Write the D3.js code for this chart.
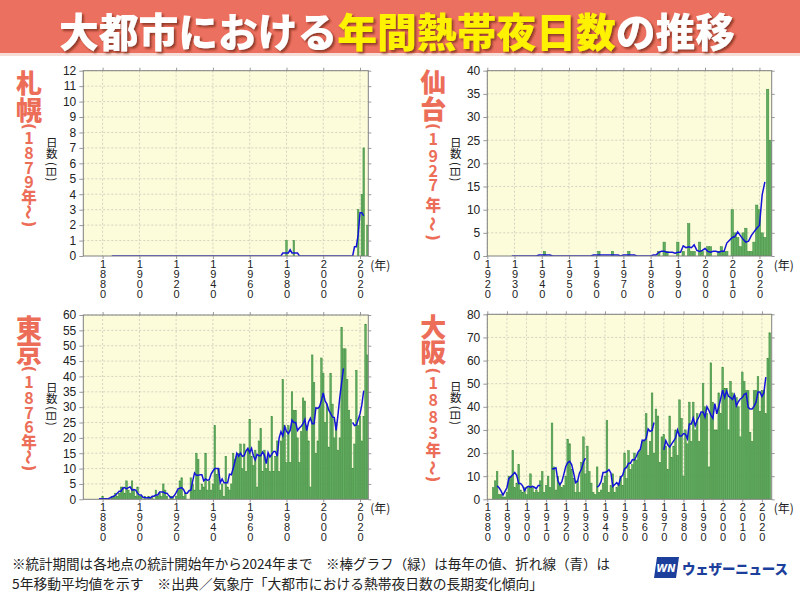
<!DOCTYPE html>
<html>
<head>
<meta charset="utf-8">
<script src="https://cdn.jsdelivr.net/npm/d3@7"></script>
<style>
  body { margin: 0; background: #fff; }
  svg { display: block; font-family: "Noto Sans CJK JP", "Noto Sans", sans-serif; }
</style>
</head>
<body>
<div id="chart"></div>
<script>
// ---- data ----
var cities = ["札幌", "仙台", "東京", "大阪"];
var startYears = [1879, 1927, 1876, 1883];

// 札幌 1879-2024
var sapporoDays = [0,
  0,0,0,0,0,0,0,0,0,0, 0,0,0,0,0,0,0,0,0,0, 0,0,0,0,0,0,0,0,0,0, 0,0,0,0,0,0,0,0,0,0,
  0,0,0,0,0,0,0,0,0,0, 0,0,0,0,0,0,0,0,0,0, 0,0,0,0,0,0,0,0,0,0, 0,0,0,0,0,0,0,0,0,0,
  0,0,0,0,0,0,0,0,0,0, 0,0,0,0,0,0,0,0,0,0,
  1,0,0,0,1,0,0,0,0,0,
  0,0,0,0,0,0,0,0,0,0, 0,0,0,0,0,0,0,0,0,0,
  0,0,0,0,0,0,0,0,0,3,
  0,4,7,0,2];

// 仙台 1927-2024
var sendaiDays = [0,0,0,
  0,0,0,0,0,0,0,0,0,0,
  0,1,0,0,0,0,0,0,0,0,
  0,0,0,0,0,0,0,0,0,0,
  0,1,0,0,0,0,1,0,0,0,
  0,0,1,0,0,0,0,0,0,0,
  0,0,0,1,0,3,1,0,0,0,
  3,0,1,0,7,1,1,0,3,1,
  0,2,2,0,0,1,2,1,1,0,
  10,5,4,2,5,6,1,1,3,11,
  10,5,4,36,25];

// 東京 1876-2024
var tokyoDays = [0,0,0,0,
  1,0,0,0,0,1,1,2,1,2,
  4,4,2,6,3,2,6,3,1,4,
  1,1,0,1,0,1,0,1,0,3,
  1,2,1,5,3,1,0,1,1,0,
  1,3,6,7,1,2,0,0,7,5,
  3,15,13,3,5,4,15,3,6,3,
  5,24,8,10,3,5,1,14,4,3,
  5,15,13,14,15,18,10,18,9,16,
  26,14,11,16,4,19,23,9,16,10,
  14,9,27,9,14,19,9,19,39,24,
  12,24,12,35,29,29,20,12,22,33,
  32,24,19,4,47,38,15,19,30,46,
  41,25,31,17,41,31,20,25,16,20,
  56,49,49,39,29,26,10,18,42,24,
  27,19,27,57,47];

// 大阪 1883-2024
var osakaDays = [5,8,12,2,2,1,1,
  3,10,10,21,5,7,15,4,3,5,
  2,5,11,5,3,4,3,8,12,3,
  6,10,5,33,14,4,10,7,5,6,
  10,26,24,13,9,3,8,3,16,27,
  11,23,12,7,3,2,14,3,4,7,
  10,34,3,6,11,3,5,7,10,6,
  20,9,21,13,15,20,17,20,21,25,
  25,37,19,25,46,20,39,36,16,27,
  28,23,13,36,18,23,30,19,43,35,
  10,30,24,42,25,42,30,37,25,37,
  50,40,37,14,59,42,30,30,46,37,
  57,48,48,30,51,46,45,44,40,27,
  55,51,47,47,29,25,47,47,53,38,
  47,47,37,61,72];

// continuous observation periods (the 5-year line is not joined across them)
var sapporoPeriods = [[1883, 2024]];
var sendaiPeriods = [[1927, 2024]];
var tokyoPeriods = [[1876, 2013], [2014, 2024]];
var osakaPeriods = [[1883, 1909], [1911, 1932], [1934, 1967], [1968, 2024]];

var yMaxes = [12, 40, 60, 80];
var yTickSteps = [1, 5, 5, 10];
var xTickYears = [
  [1880, 1900, 1920, 1940, 1960, 1980, 2000, 2020],
  [1920, 1930, 1940, 1950, 1960, 1970, 1980, 1990, 2000, 2010, 2020],
  [1880, 1900, 1920, 1940, 1960, 1980, 2000, 2020],
  [1880, 1890, 1900, 1910, 1920, 1930, 1940, 1950, 1960, 1970, 1980, 1990, 2000, 2010, 2020]
];

var titleParts = ["大都市における", "年間熱帯夜日数", "の推移"];
var footLines = [
  "※統計期間は各地点の統計開始年から2024年まで　※棒グラフ（緑）は毎年の値、折れ線（青）は",
  "5年移動平均値を示す　※出典／気象庁「大都市における熱帯夜日数の長期変化傾向」"
];
var brandName = "ウェザーニュース";

// ---- layout ----
var panels = [
  { days: sapporoDays, periods: sapporoPeriods, x0: 83.3, x1: 368.3, yTop: 70.7, yBot: 256, dom: [1869.5, 2024.5],
    labelX: 29, labelY: 81.7, offs: [0, 26.3, 44.8, 55.5, 70.3, 84.8, 99.3, 114.5, 130.3, 142.3] },
  { days: sendaiDays, periods: sendaiPeriods, x0: 487.3, x1: 771.7, yTop: 70.7, yBot: 256, dom: [1920, 2024.5],
    labelX: 433.3, labelY: 80, offs: [0, 27, 46.5, 57.5, 75, 90, 104, 123.5, 144, 157.5] },
  { days: tokyoDays, periods: tokyoPeriods, x0: 83.3, x1: 368.3, yTop: 315, yBot: 499.3, dom: [1869.5, 2024.5],
    labelX: 29, labelY: 326, offs: [0, 25, 43, 55, 71, 86, 100, 114.5, 131, 142] },
  { days: osakaDays, periods: osakaPeriods, x0: 487.3, x1: 771.7, yTop: 314.3, yBot: 499.3, dom: [1880, 2025],
    labelX: 433.3, labelY: 325, offs: [0, 25, 46, 57, 74, 91, 107, 123.5, 143, 154] }
];

var salmon = "#ec6d58";

var svg = d3.select("#chart").append("svg")
  .attr("width", 800)
  .attr("height", 600);

var defs = svg.append("defs");
defs.append("filter").attr("id", "shadow")
  .append("feDropShadow")
  .attr("dx", 2).attr("dy", 2).attr("stdDeviation", 1.2)
  .attr("flood-color", "#6b2418").attr("flood-opacity", 0.7);

// header banner
svg.append("rect").attr("x", 0).attr("y", 0).attr("width", 800).attr("height", 53).attr("fill", "#ec705f");
svg.append("rect").attr("x", 0).attr("y", 53).attr("width", 800).attr("height", 3).attr("fill", "#f7ddd7");

var title = svg.append("text")
  .attr("x", 59).attr("y", 47)
  .attr("font-size", 40).attr("font-weight", 900)
  .attr("textLength", 676).attr("lengthAdjust", "spacingAndGlyphs")
  .attr("filter", "url(#shadow)");
var titleColors = ["#ffffff", "#fff200", "#ffffff"];
titleParts.forEach(function (t, i) {
  title.append("tspan").attr("fill", titleColors[i]).text(t);
});

// ---- panels ----
panels.forEach(function (p, i) {
  var x = d3.scaleLinear().domain(p.dom).range([p.x0, p.x1]);
  var y = d3.scaleLinear().domain([0, yMaxes[i]]).range([p.yBot, p.yTop]);
  var bw = x(1) - x(0); // one year
  var g = svg.append("g");

  g.append("rect")
    .attr("x", p.x0).attr("y", p.yTop)
    .attr("width", p.x1 - p.x0).attr("height", p.yBot - p.yTop)
    .attr("fill", "#fcfcdb");

  var yTicks = d3.range(0, yMaxes[i] + 0.001, yTickSteps[i]);

  // grid
  g.selectAll(".hgrid").data(yTicks.slice(1)).enter().append("line")
    .attr("x1", p.x0).attr("x2", p.x1)
    .attr("y1", d => y(d)).attr("y2", d => y(d))
    .attr("stroke", "#c9c9bb").attr("stroke-width", 0.8).attr("stroke-dasharray", "2,2");
  g.selectAll(".vgrid").data(xTickYears[i]).enter().append("line")
    .attr("x1", d => x(d)).attr("x2", d => x(d))
    .attr("y1", p.yTop).attr("y2", p.yBot)
    .attr("stroke", "#c9c9bb").attr("stroke-width", 0.8).attr("stroke-dasharray", "2,2");

  var clipId = "clip" + i;
  defs.append("clipPath").attr("id", clipId).append("rect")
    .attr("x", p.x0).attr("y", p.yTop).attr("width", p.x1 - p.x0).attr("height", p.yBot - p.yTop);

  var rows = p.days.map(function (v, k) { return { year: startYears[i] + k, v: v }; });

  // bars
  g.append("g").attr("clip-path", "url(#" + clipId + ")")
    .selectAll("rect").data(rows.filter(d => d.v > 0)).enter().append("rect")
    .attr("x", d => x(d.year - 0.5) + 0.15)
    .attr("width", Math.max(bw - 0.3, 0.5))
    .attr("y", d => y(d.v))
    .attr("height", d => p.yBot - y(d.v))
    .attr("fill", "#62ad62")
    .attr("stroke", "#3b8a3b")
    .attr("stroke-width", 0.5);

  // 5-year running mean, only inside one observation period
  var ma = rows.map(function (d) {
    var inside = p.periods.some(s => d.year - 2 >= s[0] && d.year + 2 <= s[1]);
    if (!inside) return { year: d.year, v: null };
    var win = rows.filter(r => Math.abs(r.year - d.year) <= 2);
    return { year: d.year, v: d3.mean(win, r => r.v) };
  });
  var line = d3.line()
    .defined(d => d.v !== null)
    .x(d => x(d.year))
    .y(d => y(d.v));
  g.append("path").datum(ma)
    .attr("clip-path", "url(#" + clipId + ")")
    .attr("d", line)
    .attr("fill", "none")
    .attr("stroke", "#1414d8")
    .attr("stroke-width", 1.5);

  // axes
  var left = g.append("g").attr("transform", `translate(${p.x0},0)`)
    .call(d3.axisLeft(y).tickValues(yTicks).tickSize(4).tickPadding(3));
  left.select(".domain").remove();
  left.selectAll(".tick line").attr("stroke", "#999");
  left.selectAll(".tick text").attr("font-family", "Liberation Sans, Arial, sans-serif")
    .attr("font-size", 12).attr("fill", "#222");

  var right = g.append("g").attr("transform", `translate(${p.x1},0)`)
    .call(d3.axisRight(y).tickValues(yTicks).tickSize(3).tickFormat(""));
  right.select(".domain").remove();
  right.selectAll(".tick line").attr("stroke", "#999");

  var top = g.append("g").attr("transform", `translate(0,${p.yTop})`)
    .call(d3.axisTop(x).tickValues(xTickYears[i]).tickSize(3).tickFormat(""));
  top.select(".domain").remove();
  top.selectAll(".tick line").attr("stroke", "#999");

  var bottom = g.append("g").attr("transform", `translate(0,${p.yBot})`)
    .call(d3.axisBottom(x).tickValues(xTickYears[i]).tickSize(3).tickFormat(""));
  bottom.select(".domain").remove();
  bottom.selectAll(".tick line").attr("stroke", "#999");
  bottom.selectAll(".tick text").each(function (d) {
    var t = d3.select(this).attr("dy", null)
      .attr("font-family", "Liberation Sans, Arial, sans-serif")
      .attr("font-size", 11).attr("fill", "#222");
    String(d).split("").forEach(function (ch, k) {
      t.append("tspan").attr("x", 0).attr("y", 12.2 + k * 10).text(ch);
    });
  });

  // frame
  g.append("rect")
    .attr("x", p.x0).attr("y", p.yTop)
    .attr("width", p.x1 - p.x0).attr("height", p.yBot - p.yTop)
    .attr("fill", "none").attr("stroke", "#808080").attr("stroke-width", 1);

  // (年)
  g.append("text")
    .attr("x", p.x1 + 2).attr("y", p.yBot + 14)
    .attr("font-size", 12).attr("fill", "#222")
    .text("(年)");

  // 日数(日)
  var lx = p.x0 - 31.6;
  ["日", "数"].forEach(function (ch, k) {
    g.append("text")
      .attr("x", lx).attr("y", p.yTop + 71.6 + k * 11)
      .attr("text-anchor", "middle").attr("dominant-baseline", "central")
      .attr("font-size", 11.5).attr("fill", "#222")
      .text(ch);
  });
  g.append("text")
    .attr("x", lx).attr("y", p.yTop + 101)
    .attr("text-anchor", "middle").attr("dominant-baseline", "central")
    .attr("font-size", 11.5).attr("fill", "#222")
    .attr("transform", `rotate(90,${lx},${p.yTop + 101})`)
    .text("(日)");

  // city name + start year, written vertically
  var name = cities[i];
  var chars = [
    { t: name[0], k: "name" }, { t: name[1], k: "name" }, { t: "(", k: "paren" }
  ];
  String(startYears[i]).split("").forEach(c => chars.push({ t: c, k: "digit" }));
  chars.push({ t: "年", k: "nen" }, { t: "〜", k: "wave" }, { t: ")", k: "paren" });

  chars.forEach(function (c, j) {
    var cy = p.labelY + p.offs[j];
    var t = g.append("text")
      .attr("x", p.labelX).attr("y", cy)
      .attr("text-anchor", "middle").attr("dominant-baseline", "central")
      .attr("fill", salmon).attr("font-weight", 900)
      .text(c.t);
    if (c.k === "name") t.attr("font-size", 26);
    if (c.k === "digit") t.attr("font-size", 16).attr("font-weight", 700);
    if (c.k === "nen") t.attr("font-size", 15.5);
    if (c.k === "paren") t.attr("font-size", 15).attr("font-weight", 700)
      .attr("font-family", "DejaVu Sans, sans-serif")
      .attr("transform", `rotate(90,${p.labelX},${cy})`);
    if (c.k === "wave") t.attr("font-size", 15).attr("transform", `rotate(90,${p.labelX},${cy})`);
  });
});

// ---- footer ----
var footLen = [598, 531];
footLines.forEach(function (t, i) {
  svg.append("text")
    .attr("x", 12).attr("y", 568.5 + i * 20.5)
    .attr("font-size", 13.5).attr("fill", "#222")
    .attr("textLength", footLen[i]).attr("lengthAdjust", "spacingAndGlyphs")
    .text(t);
});

// brand
var logo = svg.append("g");
logo.append("path")
  .attr("d", "M657,557 L679,557 L676,578 L654,578 Z")
  .attr("fill", "#1d3f9c");
logo.append("text")
  .attr("x", 666).attr("y", 572)
  .attr("text-anchor", "middle")
  .attr("font-family", "DejaVu Sans, sans-serif")
  .attr("font-size", 10).attr("font-weight", 700).attr("font-style", "italic")
  .attr("fill", "#fff")
  .text("WN");
logo.append("text")
  .attr("x", 682).attr("y", 573.5)
  .attr("font-size", 13.5).attr("font-weight", 900)
  .attr("letter-spacing", -0.2)
  .attr("fill", "#1d3f9c")
  .text(brandName);
</script>
</body>
</html>
